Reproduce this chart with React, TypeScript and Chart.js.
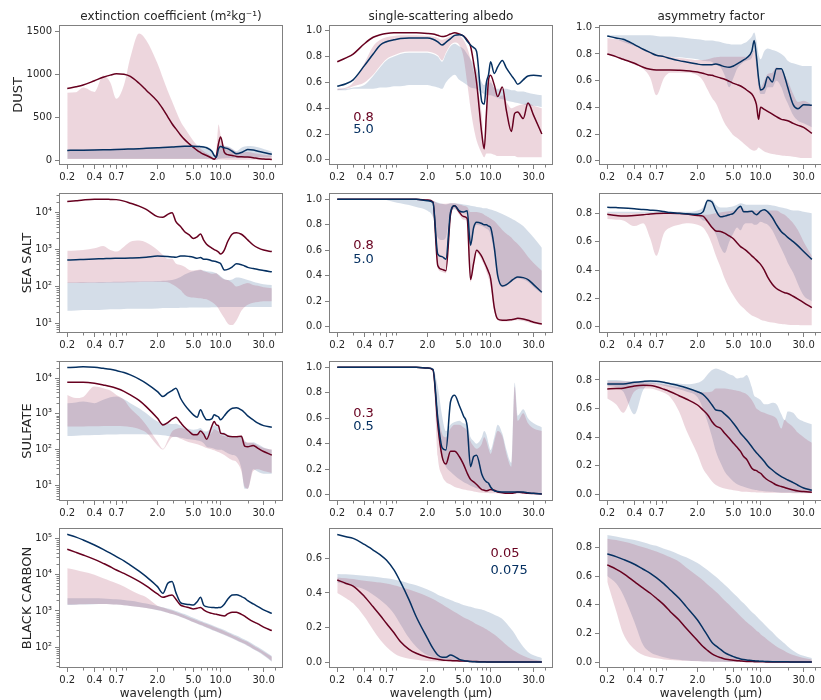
import React, { useEffect, useRef } from 'react';
import { Chart, registerables } from 'chart.js';

Chart.register(...registerables);

// ---------------- data ----------------
const WAVELENGTH = [0.2, 0.25, 0.3, 0.4, 0.5, 0.6, 0.7, 0.85, 1.0, 1.25, 1.5, 2.0, 2.3, 2.6, 2.9, 3.2, 3.6, 4.0, 4.5, 5.0, 5.5, 6.0, 6.5, 7.0, 8.0, 8.5, 9.0, 9.5, 10.0, 11.0, 12.0, 13.5, 15.0, 17.0, 18.5, 20.0, 23.0, 26.0, 30.0, 37.0];

const X_TICKS = [0.2, 0.4, 0.7, 2, 5, 10, 30];
const X_TICK_LABELS = ['0.2', '0.4', '0.7', '2.0', '5.0', '10.0', '30.0'];
const X_MINOR_TICKS = [0.3, 0.5, 0.6, 0.8, 0.9, 3, 4, 6, 7, 8, 9, 20, 40];

const COLUMN_TITLES = ['extinction coefficient (m²kg⁻¹)', 'single-scattering albedo', 'asymmetry factor'];
const ROW_LABELS = ['DUST', 'SEA SALT', 'SULFATE', 'BLACK CARBON'];
const X_LABEL = 'wavelength (μm)';
const SIZE_LABELS_RED = ['0.8', '0.8', '0.3', '0.05'];
const SIZE_LABELS_BLUE = ['5.0', '5.0', '0.5', '0.075'];

// DUST extinction
const DUST_EXT_RED = [840, 860, 880, 930, 970, 995, 1010, 1005, 980, 900, 820, 690, 600, 510, 430, 370, 300, 245, 195, 155, 120, 95, 75, 60, 30, 18, 60, 200, 275, 100, 70, 60, 50, 45, 43, 42, 35, 25, 20, 15];
const DUST_EXT_BLUE = [120, 121, 122, 124, 126, 128, 130, 133, 136, 140, 144, 150, 153, 156, 159, 162, 165, 167, 168, 168, 166, 163, 160, 150, 110, 60, 40, 140, 165, 150, 140, 110, 80, 95, 115, 130, 125, 110, 95, 75];
const DUST_EXT_RED_HI = [790, 795, 850, 800, 990, 910, 720, 880, 1200, 1480, 1400, 1130, 960, 810, 690, 580, 460, 380, 300, 230, 180, 140, 110, 90, 50, 25, 120, 420, 300, 170, 160, 130, 100, 95, 98, 100, 90, 80, 70, 60];
const DUST_EXT_RED_LO = [20, 20, 20, 20, 20, 20, 20, 20, 20, 20, 20, 20, 20, 20, 20, 20, 20, 20, 20, 20, 20, 20, 20, 18, 15, 8, 10, 15, 15, 15, 12, 12, 10, 10, 10, 10, 10, 10, 8, 8];
const DUST_EXT_BLUE_HI = [128, 129, 130, 132, 134, 136, 138, 141, 144, 148, 152, 158, 162, 165, 168, 171, 174, 176, 177, 178, 178, 176, 172, 165, 125, 70, 55, 160, 185, 175, 168, 140, 110, 150, 165, 172, 168, 155, 135, 105];
const DUST_EXT_BLUE_LO = [22, 22, 22, 22, 22, 22, 22, 22, 22, 22, 22, 22, 22, 22, 22, 22, 22, 22, 22, 22, 22, 22, 22, 22, 18, 10, 12, 20, 25, 28, 30, 30, 30, 32, 34, 36, 38, 40, 40, 40];

// DUST single-scattering albedo
const DUST_SSA_RED = [0.76, 0.79, 0.82, 0.90, 0.95, 0.97, 0.98, 0.985, 0.985, 0.985, 0.985, 0.98, 0.975, 0.965, 0.955, 0.96, 0.975, 0.985, 0.975, 0.96, 0.93, 0.88, 0.75, 0.60, 0.20, 0.085, 0.36, 0.62, 0.655, 0.58, 0.49, 0.565, 0.38, 0.22, 0.36, 0.37, 0.32, 0.44, 0.345, 0.20];
const DUST_SSA_BLUE = [0.57, 0.59, 0.62, 0.73, 0.82, 0.89, 0.915, 0.93, 0.94, 0.945, 0.945, 0.945, 0.935, 0.915, 0.89, 0.91, 0.94, 0.965, 0.97, 0.96, 0.92, 0.89, 0.87, 0.84, 0.45, 0.43, 0.60, 0.66, 0.76, 0.67, 0.72, 0.77, 0.71, 0.655, 0.62, 0.585, 0.62, 0.65, 0.655, 0.65];
const DUST_SSA_RED_HI = [0.55, 0.56, 0.60, 0.75, 0.88, 0.93, 0.95, 0.96, 0.965, 0.965, 0.965, 0.96, 0.955, 0.945, 0.93, 0.94, 0.96, 0.97, 0.965, 0.93, 0.87, 0.78, 0.68, 0.58, 0.35, 0.12, 0.40, 0.60, 0.62, 0.55, 0.48, 0.50, 0.45, 0.40, 0.41, 0.42, 0.43, 0.44, 0.42, 0.40];
const DUST_SSA_RED_LO = [0.54, 0.55, 0.57, 0.60, 0.66, 0.73, 0.78, 0.81, 0.83, 0.84, 0.84, 0.84, 0.83, 0.81, 0.77, 0.83, 0.89, 0.91, 0.89, 0.80, 0.60, 0.40, 0.25, 0.15, 0.05, 0.02, 0.05, 0.05, 0.05, 0.04, 0.03, 0.03, 0.03, 0.03, 0.03, 0.02, 0.02, 0.02, 0.02, 0.02];
const DUST_SSA_BLUE_HI = [0.55, 0.55, 0.56, 0.58, 0.65, 0.72, 0.77, 0.80, 0.82, 0.83, 0.83, 0.83, 0.82, 0.80, 0.76, 0.82, 0.88, 0.90, 0.88, 0.86, 0.82, 0.78, 0.74, 0.70, 0.60, 0.58, 0.60, 0.60, 0.60, 0.56, 0.55, 0.55, 0.55, 0.54, 0.54, 0.53, 0.53, 0.52, 0.51, 0.50];
const DUST_SSA_BLUE_LO = [0.54, 0.54, 0.55, 0.55, 0.55, 0.56, 0.56, 0.57, 0.57, 0.58, 0.58, 0.58, 0.57, 0.56, 0.55, 0.60, 0.64, 0.66, 0.62, 0.60, 0.58, 0.56, 0.555, 0.55, 0.52, 0.51, 0.50, 0.50, 0.50, 0.49, 0.48, 0.47, 0.46, 0.45, 0.445, 0.44, 0.43, 0.42, 0.42, 0.41];

// DUST asymmetry factor
const DUST_ASY_RED = [0.80, 0.78, 0.76, 0.73, 0.70, 0.685, 0.68, 0.68, 0.68, 0.678, 0.675, 0.665, 0.655, 0.645, 0.64, 0.63, 0.62, 0.61, 0.595, 0.58, 0.57, 0.56, 0.545, 0.53, 0.50, 0.47, 0.42, 0.31, 0.40, 0.385, 0.37, 0.35, 0.33, 0.31, 0.305, 0.30, 0.28, 0.265, 0.25, 0.205];
const DUST_ASY_BLUE = [0.935, 0.92, 0.91, 0.87, 0.835, 0.81, 0.79, 0.78, 0.766, 0.75, 0.74, 0.724, 0.72, 0.72, 0.72, 0.725, 0.715, 0.705, 0.70, 0.71, 0.725, 0.74, 0.755, 0.77, 0.82, 0.90, 0.78, 0.62, 0.53, 0.55, 0.63, 0.59, 0.69, 0.69, 0.63, 0.55, 0.42, 0.39, 0.42, 0.415];
const DUST_ASY_RED_HI = [0.92, 0.91, 0.90, 0.87, 0.84, 0.82, 0.80, 0.79, 0.78, 0.77, 0.765, 0.755, 0.755, 0.76, 0.77, 0.775, 0.78, 0.78, 0.78, 0.78, 0.78, 0.78, 0.78, 0.78, 0.80, 0.83, 0.75, 0.62, 0.55, 0.60, 0.65, 0.66, 0.70, 0.68, 0.64, 0.60, 0.50, 0.44, 0.45, 0.42];
const DUST_ASY_RED_LO = [0.80, 0.78, 0.76, 0.72, 0.69, 0.62, 0.49, 0.62, 0.66, 0.66, 0.66, 0.64, 0.60, 0.53, 0.47, 0.43, 0.35, 0.28, 0.23, 0.19, 0.17, 0.15, 0.13, 0.11, 0.08, 0.075, 0.08, 0.10, 0.09, 0.07, 0.06, 0.05, 0.045, 0.04, 0.038, 0.035, 0.03, 0.025, 0.02, 0.02];
const DUST_ASY_BLUE_HI = [0.94, 0.94, 0.94, 0.94, 0.94, 0.94, 0.935, 0.93, 0.93, 0.925, 0.92, 0.91, 0.905, 0.90, 0.90, 0.895, 0.89, 0.88, 0.875, 0.87, 0.87, 0.87, 0.88, 0.89, 0.93, 0.96, 0.90, 0.80, 0.76, 0.82, 0.84, 0.83, 0.82, 0.80, 0.78, 0.75, 0.73, 0.72, 0.71, 0.71];
const DUST_ASY_BLUE_LO = [0.93, 0.91, 0.89, 0.86, 0.84, 0.82, 0.80, 0.79, 0.78, 0.775, 0.77, 0.76, 0.75, 0.745, 0.74, 0.72, 0.70, 0.64, 0.55, 0.62, 0.69, 0.72, 0.74, 0.75, 0.77, 0.82, 0.70, 0.55, 0.50, 0.50, 0.55, 0.55, 0.60, 0.55, 0.48, 0.43, 0.34, 0.30, 0.28, 0.25];

// SEA SALT extinction
const SS_EXT_RED = [20000, 21000, 22000, 23000, 23000, 22800, 22500, 20500, 18000, 15000, 12300, 7800, 7500, 9000, 10000, 5700, 4200, 3050, 2500, 2000, 2200, 2650, 1800, 1400, 1100, 1000, 930, 850, 760, 970, 1650, 2650, 2870, 2600, 2200, 1830, 1330, 1110, 970, 880];
const SS_EXT_BLUE = [520, 530, 540, 555, 565, 575, 580, 585, 590, 600, 620, 670, 660, 645, 630, 620, 670, 670, 650, 620, 580, 610, 550, 550, 500, 485, 470, 445, 420, 280, 290, 340, 410, 390, 360, 330, 305, 290, 270, 250];
const SS_EXT_RED_HI = [930, 950, 970, 1080, 1250, 970, 880, 1200, 1630, 1750, 1550, 970, 710, 560, 560, 420, 380, 340, 280, 270, 280, 290, 260, 245, 220, 225, 230, 200, 180, 155, 150, 125, 100, 110, 118, 125, 110, 105, 95, 90];
const SS_EXT_RED_LO = [125, 125, 125, 126, 127, 128, 128, 129, 130, 132, 134, 135, 133, 130, 115, 100, 80, 60, 52, 50, 49, 48, 46, 45, 38, 34, 30, 25, 20, 14, 10, 9, 12, 22, 28, 32, 36, 38, 40, 40];
const SS_EXT_BLUE_HI = [128, 129, 130, 131, 132, 133, 134, 135, 136, 137, 138, 140, 142, 145, 150, 160, 180, 210, 240, 260, 270, 280, 270, 260, 250, 240, 230, 210, 190, 160, 150, 155, 175, 170, 160, 150, 135, 125, 115, 110];
const SS_EXT_BLUE_LO = [22, 22.5, 23, 23, 23.5, 24, 24, 24.5, 25, 25, 25, 25.5, 26, 26, 26, 26, 26.5, 26.5, 27, 27, 27, 27, 27, 27, 27.5, 27.5, 27.5, 27.5, 28, 28, 28, 28, 28, 28, 28, 28, 28, 28, 28, 28];

// SEA SALT single-scattering albedo
const SS_SSA_RED = [1, 1, 1, 1, 1, 1, 1, 1, 1, 1, 1, 0.995, 0.98, 0.48, 0.45, 0.44, 0.88, 0.95, 0.90, 0.865, 0.85, 0.37, 0.50, 0.60, 0.55, 0.51, 0.47, 0.43, 0.38, 0.15, 0.06, 0.05, 0.05, 0.055, 0.06, 0.065, 0.06, 0.05, 0.035, 0.02];
const SS_SSA_BLUE = [1, 1, 1, 1, 1, 1, 1, 1, 1, 1, 1, 0.99, 0.975, 0.57, 0.55, 0.53, 0.90, 0.95, 0.91, 0.90, 0.91, 0.64, 0.78, 0.82, 0.81, 0.80, 0.80, 0.79, 0.78, 0.62, 0.40, 0.32, 0.33, 0.36, 0.38, 0.39, 0.385, 0.37, 0.33, 0.27];
const SS_SSA_RED_HI = [1, 1, 1, 1, 1, 1, 1, 1, 1, 1, 1, 1, 0.99, 0.97, 0.965, 0.965, 0.97, 0.97, 0.96, 0.95, 0.94, 0.90, 0.90, 0.90, 0.89, 0.88, 0.87, 0.86, 0.85, 0.83, 0.80, 0.76, 0.73, 0.70, 0.67, 0.65, 0.60, 0.55, 0.50, 0.44];
const SS_SSA_RED_LO = [1, 1, 1, 1, 1, 1, 1, 1, 1, 1, 1, 0.99, 0.975, 0.46, 0.43, 0.42, 0.85, 0.93, 0.88, 0.84, 0.83, 0.35, 0.48, 0.58, 0.52, 0.48, 0.43, 0.38, 0.32, 0.12, 0.05, 0.04, 0.04, 0.045, 0.05, 0.05, 0.045, 0.035, 0.025, 0.015];
const SS_SSA_BLUE_HI = [1, 1, 1, 1, 1, 1, 1, 1, 1, 1, 1, 1, 0.99, 0.975, 0.965, 0.96, 0.97, 0.97, 0.965, 0.96, 0.955, 0.95, 0.945, 0.94, 0.935, 0.93, 0.93, 0.925, 0.92, 0.91, 0.90, 0.885, 0.87, 0.85, 0.835, 0.82, 0.79, 0.75, 0.70, 0.62];
const SS_SSA_BLUE_LO = [1, 1, 1, 1, 1, 1, 0.995, 0.98, 0.97, 0.955, 0.94, 0.91, 0.86, 0.70, 0.68, 0.70, 0.90, 0.92, 0.90, 0.89, 0.88, 0.63, 0.75, 0.80, 0.79, 0.78, 0.77, 0.76, 0.72, 0.58, 0.38, 0.31, 0.32, 0.35, 0.37, 0.38, 0.37, 0.35, 0.31, 0.26];

// SEA SALT asymmetry factor
const SS_ASY_RED = [0.793, 0.785, 0.78, 0.785, 0.79, 0.795, 0.798, 0.80, 0.80, 0.798, 0.795, 0.785, 0.78, 0.74, 0.70, 0.675, 0.672, 0.66, 0.64, 0.62, 0.59, 0.565, 0.55, 0.535, 0.50, 0.485, 0.47, 0.455, 0.44, 0.40, 0.35, 0.30, 0.27, 0.25, 0.24, 0.235, 0.215, 0.195, 0.17, 0.135];
const SS_ASY_BLUE = [0.842, 0.840, 0.838, 0.832, 0.826, 0.822, 0.82, 0.812, 0.805, 0.80, 0.797, 0.793, 0.81, 0.89, 0.88, 0.82, 0.775, 0.78, 0.79, 0.80, 0.83, 0.85, 0.81, 0.81, 0.815, 0.80, 0.79, 0.80, 0.815, 0.825, 0.81, 0.77, 0.72, 0.67, 0.65, 0.63, 0.60, 0.57, 0.53, 0.475];
const SS_ASY_RED_HI = [0.80, 0.80, 0.80, 0.80, 0.80, 0.80, 0.80, 0.80, 0.80, 0.80, 0.80, 0.79, 0.79, 0.79, 0.795, 0.80, 0.805, 0.81, 0.815, 0.82, 0.83, 0.84, 0.83, 0.82, 0.82, 0.82, 0.82, 0.82, 0.82, 0.82, 0.82, 0.82, 0.82, 0.80, 0.79, 0.77, 0.73, 0.68, 0.60, 0.50];
const SS_ASY_RED_LO = [0.76, 0.755, 0.75, 0.71, 0.73, 0.62, 0.50, 0.66, 0.70, 0.72, 0.73, 0.72, 0.70, 0.65, 0.58, 0.50, 0.42, 0.34, 0.27, 0.22, 0.18, 0.15, 0.13, 0.11, 0.08, 0.072, 0.065, 0.058, 0.05, 0.042, 0.035, 0.03, 0.025, 0.02, 0.018, 0.015, 0.013, 0.012, 0.01, 0.01];
const SS_ASY_BLUE_HI = [0.81, 0.81, 0.81, 0.81, 0.81, 0.81, 0.81, 0.81, 0.81, 0.81, 0.81, 0.82, 0.84, 0.90, 0.895, 0.86, 0.84, 0.84, 0.845, 0.85, 0.86, 0.87, 0.865, 0.86, 0.86, 0.86, 0.86, 0.86, 0.86, 0.86, 0.86, 0.855, 0.85, 0.84, 0.835, 0.83, 0.82, 0.82, 0.81, 0.80];
const SS_ASY_BLUE_LO = [0.80, 0.80, 0.80, 0.80, 0.80, 0.80, 0.80, 0.80, 0.80, 0.795, 0.79, 0.78, 0.75, 0.74, 0.70, 0.65, 0.56, 0.52, 0.60, 0.66, 0.70, 0.68, 0.72, 0.73, 0.73, 0.72, 0.72, 0.73, 0.74, 0.73, 0.72, 0.68, 0.62, 0.55, 0.50, 0.45, 0.38, 0.30, 0.22, 0.18];

// SULFATE extinction
const SUL_EXT_RED = [7700, 7700, 7700, 7240, 6500, 5900, 5240, 4300, 3410, 2400, 1600, 750, 490, 570, 710, 810, 570, 420, 320, 260, 260, 330, 270, 195, 450, 610, 490, 460, 290, 275, 240, 230, 230, 235, 125, 120, 130, 108, 88, 70];
const SUL_EXT_BLUE = [20000, 20500, 21000, 20300, 19000, 17800, 16400, 14500, 12400, 9500, 7240, 4230, 3060, 3800, 4500, 5240, 2750, 1790, 1240, 940, 810, 1300, 880, 680, 730, 940, 880, 820, 680, 880, 1160, 1440, 1480, 1290, 1080, 880, 680, 550, 470, 420];
const SUL_EXT_RED_HI = [3400, 2800, 3000, 5840, 5240, 4500, 3400, 2500, 1440, 840, 490, 167, 105, 186, 320, 380, 400, 380, 330, 290, 280, 320, 280, 230, 300, 380, 350, 320, 260, 240, 220, 210, 210, 210, 165, 160, 150, 130, 110, 100];
const SUL_EXT_RED_LO = [440, 440, 445, 450, 460, 460, 460, 450, 430, 380, 300, 130, 100, 150, 220, 230, 200, 180, 160, 150, 140, 130, 120, 110, 100, 95, 90, 85, 80, 70, 60, 50, 45, 25, 9, 8, 25, 28, 25, 22];
const SUL_EXT_BLUE_HI = [2000, 2100, 2220, 2000, 2480, 2930, 3060, 2570, 2000, 1450, 1040, 610, 550, 550, 520, 530, 470, 400, 380, 360, 370, 400, 330, 320, 420, 480, 450, 400, 320, 300, 260, 240, 230, 230, 180, 150, 160, 140, 115, 98];
const SUL_EXT_BLUE_LO = [240, 245, 250, 255, 260, 265, 265, 268, 270, 268, 265, 260, 250, 240, 230, 225, 215, 205, 195, 187, 180, 170, 150, 120, 110, 105, 100, 98, 98, 90, 79, 70, 64, 30, 8, 8, 28, 24, 21, 21];

// SULFATE single-scattering albedo
const SUL_SSA_RED = [1, 1, 1, 1, 1, 1, 1, 1, 1, 1, 1, 0.995, 0.98, 0.55, 0.30, 0.24, 0.34, 0.34, 0.30, 0.24, 0.17, 0.12, 0.10, 0.08, 0.04, 0.035, 0.03, 0.035, 0.04, 0.035, 0.02, 0.015, 0.01, 0.01, 0.015, 0.02, 0.015, 0.01, 0.008, 0.005];
const SUL_SSA_BLUE = [1, 1, 1, 1, 1, 1, 1, 1, 1, 1, 1, 0.995, 0.985, 0.60, 0.37, 0.35, 0.73, 0.78, 0.70, 0.62, 0.54, 0.22, 0.30, 0.31, 0.16, 0.12, 0.10, 0.09, 0.06, 0.03, 0.025, 0.02, 0.02, 0.02, 0.02, 0.02, 0.02, 0.015, 0.01, 0.005];
const SUL_SSA_RED_HI = [1, 1, 1, 1, 1, 1, 1, 1, 1, 1, 1, 1, 0.985, 0.66, 0.48, 0.45, 0.52, 0.55, 0.55, 0.53, 0.50, 0.42, 0.38, 0.36, 0.40, 0.45, 0.42, 0.36, 0.32, 0.42, 0.50, 0.46, 0.32, 0.22, 0.85, 0.58, 0.64, 0.56, 0.52, 0.50];
const SUL_SSA_RED_LO = [1, 1, 1, 1, 1, 1, 1, 1, 1, 1, 1, 0.99, 0.97, 0.30, 0.15, 0.10, 0.08, 0.06, 0.05, 0.04, 0.035, 0.03, 0.025, 0.02, 0.015, 0.015, 0.012, 0.012, 0.01, 0.01, 0.01, 0.008, 0.008, 0.008, 0.008, 0.006, 0.006, 0.005, 0.005, 0.004];
const SUL_SSA_BLUE_HI = [1, 1, 1, 1, 1, 1, 1, 1, 1, 1, 1, 1, 0.99, 0.85, 0.62, 0.50, 0.55, 0.57, 0.58, 0.56, 0.55, 0.45, 0.42, 0.40, 0.45, 0.50, 0.47, 0.40, 0.35, 0.45, 0.55, 0.48, 0.35, 0.25, 0.88, 0.62, 0.67, 0.60, 0.56, 0.53];
const SUL_SSA_BLUE_LO = [1, 1, 1, 1, 1, 1, 1, 1, 1, 1, 1, 0.995, 0.98, 0.50, 0.30, 0.22, 0.18, 0.15, 0.12, 0.10, 0.085, 0.07, 0.06, 0.05, 0.04, 0.035, 0.033, 0.03, 0.03, 0.025, 0.02, 0.02, 0.02, 0.018, 0.016, 0.015, 0.014, 0.012, 0.011, 0.01];

// SULFATE asymmetry factor
const SUL_ASY_RED = [0.737, 0.74, 0.742, 0.758, 0.763, 0.762, 0.753, 0.735, 0.718, 0.69, 0.667, 0.625, 0.59, 0.555, 0.508, 0.478, 0.462, 0.427, 0.392, 0.357, 0.329, 0.30, 0.264, 0.245, 0.182, 0.17, 0.166, 0.155, 0.147, 0.119, 0.10, 0.082, 0.065, 0.054, 0.047, 0.04, 0.03, 0.023, 0.019, 0.014];
const SUL_ASY_BLUE = [0.772, 0.772, 0.772, 0.784, 0.79, 0.793, 0.792, 0.784, 0.774, 0.76, 0.746, 0.718, 0.70, 0.665, 0.625, 0.59, 0.585, 0.562, 0.532, 0.497, 0.462, 0.427, 0.403, 0.38, 0.333, 0.31, 0.29, 0.275, 0.259, 0.229, 0.198, 0.17, 0.147, 0.124, 0.112, 0.10, 0.082, 0.063, 0.044, 0.028];
const SUL_ASY_RED_HI = [0.79, 0.79, 0.79, 0.788, 0.785, 0.78, 0.775, 0.768, 0.76, 0.75, 0.74, 0.72, 0.715, 0.715, 0.72, 0.74, 0.74, 0.74, 0.735, 0.73, 0.725, 0.72, 0.71, 0.70, 0.66, 0.63, 0.60, 0.59, 0.58, 0.57, 0.56, 0.55, 0.53, 0.46, 0.52, 0.50, 0.47, 0.43, 0.40, 0.36];
const SUL_ASY_RED_LO = [0.67, 0.63, 0.57, 0.72, 0.74, 0.74, 0.73, 0.71, 0.68, 0.58, 0.45, 0.28, 0.18, 0.13, 0.09, 0.065, 0.05, 0.04, 0.033, 0.028, 0.024, 0.02, 0.018, 0.017, 0.015, 0.014, 0.013, 0.012, 0.012, 0.011, 0.01, 0.01, 0.01, 0.009, 0.009, 0.009, 0.008, 0.008, 0.008, 0.008];
const SUL_ASY_BLUE_HI = [0.80, 0.80, 0.795, 0.79, 0.79, 0.79, 0.79, 0.785, 0.78, 0.775, 0.77, 0.78, 0.80, 0.84, 0.87, 0.88, 0.87, 0.86, 0.84, 0.83, 0.81, 0.815, 0.82, 0.835, 0.75, 0.69, 0.68, 0.67, 0.66, 0.63, 0.63, 0.64, 0.63, 0.56, 0.52, 0.58, 0.57, 0.53, 0.51, 0.49];
const SUL_ASY_BLUE_LO = [0.76, 0.75, 0.72, 0.56, 0.73, 0.77, 0.77, 0.76, 0.75, 0.735, 0.72, 0.68, 0.60, 0.50, 0.40, 0.30, 0.22, 0.16, 0.12, 0.09, 0.07, 0.06, 0.052, 0.045, 0.035, 0.032, 0.03, 0.027, 0.025, 0.022, 0.02, 0.018, 0.015, 0.013, 0.012, 0.012, 0.011, 0.01, 0.01, 0.01];

// BLACK CARBON extinction
const BC_EXT_RED = [49800, 41000, 34800, 26400, 20500, 16500, 13400, 10800, 8800, 6500, 4900, 2940, 2380, 2600, 2770, 2100, 1450, 1320, 1230, 1140, 1190, 1250, 1070, 960, 860, 830, 810, 785, 760, 730, 830, 930, 920, 810, 720, 630, 510, 440, 360, 290];
const BC_EXT_BLUE = [129000, 108000, 90000, 65600, 49800, 39000, 31200, 24000, 18400, 12500, 8800, 4680, 3060, 5800, 6500, 3200, 1700, 1560, 1500, 1450, 1800, 2370, 1450, 1320, 1250, 1240, 1230, 1240, 1250, 1530, 2100, 2770, 2800, 2500, 2250, 1930, 1560, 1320, 1070, 860];
const BC_EXT_RED_HI = [14900, 13500, 12000, 10000, 7900, 6700, 5800, 4700, 3800, 2900, 2400, 1400, 1246, 1125, 1030, 937, 833, 750, 667, 600, 548, 505, 468, 436, 384, 363, 344, 327, 310, 278, 251, 218, 194, 168, 152, 140, 113, 94, 76, 55];
const BC_EXT_RED_LO = [1500, 1520, 1540, 1560, 1560, 1540, 1500, 1440, 1380, 1280, 1200, 1060, 980, 900, 830, 770, 690, 630, 560, 500, 455, 415, 385, 355, 310, 292, 276, 262, 248, 224, 204, 180, 160, 138, 125, 112, 92, 78, 63, 42];
const BC_EXT_BLUE_HI = [2240, 2250, 2250, 2230, 2200, 2150, 2100, 2000, 1900, 1750, 1600, 1380, 1270, 1170, 1080, 1000, 900, 820, 730, 650, 590, 540, 500, 465, 410, 385, 365, 347, 330, 298, 270, 236, 210, 182, 165, 150, 122, 102, 82, 58];
const BC_EXT_BLUE_LO = [1450, 1480, 1500, 1530, 1550, 1540, 1500, 1440, 1380, 1280, 1200, 1050, 970, 890, 820, 760, 680, 620, 550, 490, 445, 405, 375, 348, 302, 285, 270, 256, 242, 218, 198, 175, 155, 134, 121, 108, 89, 75, 60, 40];

// BLACK CARBON single-scattering albedo
const BC_SSA_RED = [0.475, 0.455, 0.44, 0.38, 0.32, 0.27, 0.225, 0.17, 0.12, 0.075, 0.052, 0.029, 0.022, 0.017, 0.013, 0.011, 0.01, 0.009, 0.008, 0.007, 0.006, 0.005, 0.004, 0.004, 0.003, 0.003, 0.002, 0.002, 0.002, 0.002, 0.001, 0.001, 0.001, 0.001, 0.001, 0.001, 0.001, 0.001, 0.001, 0.001];
const BC_SSA_BLUE = [0.738, 0.725, 0.715, 0.68, 0.648, 0.62, 0.59, 0.533, 0.465, 0.36, 0.263, 0.138, 0.08, 0.042, 0.029, 0.029, 0.042, 0.033, 0.017, 0.01, 0.007, 0.004, 0.003, 0.002, 0.0015, 0.001, 0.001, 0.001, 0.001, 0.001, 0.001, 0.001, 0.001, 0.001, 0.001, 0.001, 0.001, 0.001, 0.001, 0.001];
const BC_SSA_RED_HI = [0.49, 0.485, 0.48, 0.47, 0.465, 0.46, 0.455, 0.445, 0.435, 0.42, 0.405, 0.38, 0.365, 0.35, 0.335, 0.32, 0.305, 0.29, 0.275, 0.26, 0.25, 0.24, 0.23, 0.22, 0.205, 0.198, 0.19, 0.182, 0.175, 0.16, 0.145, 0.122, 0.10, 0.078, 0.065, 0.054, 0.038, 0.026, 0.016, 0.008];
const BC_SSA_RED_LO = [0.40, 0.37, 0.34, 0.263, 0.187, 0.129, 0.09, 0.052, 0.033, 0.02, 0.015, 0.008, 0.006, 0.005, 0.004, 0.004, 0.003, 0.003, 0.002, 0.002, 0.002, 0.001, 0.001, 0.001, 0.001, 0.001, 0.001, 0.001, 0.001, 0.001, 0, 0, 0, 0, 0, 0, 0, 0, 0, 0];
const BC_SSA_BLUE_HI = [0.51, 0.508, 0.505, 0.50, 0.495, 0.49, 0.485, 0.478, 0.47, 0.455, 0.445, 0.42, 0.405, 0.39, 0.38, 0.37, 0.36, 0.35, 0.34, 0.33, 0.325, 0.32, 0.315, 0.31, 0.305, 0.30, 0.295, 0.29, 0.285, 0.275, 0.265, 0.25, 0.225, 0.19, 0.165, 0.135, 0.09, 0.06, 0.04, 0.025];
const BC_SSA_BLUE_LO = [0.46, 0.45, 0.44, 0.42, 0.39, 0.36, 0.33, 0.28, 0.22, 0.14, 0.09, 0.04, 0.03, 0.02, 0.015, 0.01, 0.008, 0.005, 0.004, 0.003, 0.002, 0.002, 0.002, 0.001, 0.001, 0.001, 0.001, 0.001, 0.001, 0.001, 0, 0, 0, 0, 0, 0, 0, 0, 0, 0];

// BLACK CARBON asymmetry factor
const BC_ASY_RED = [0.677, 0.648, 0.619, 0.561, 0.515, 0.48, 0.445, 0.399, 0.352, 0.294, 0.236, 0.151, 0.109, 0.081, 0.058, 0.044, 0.032, 0.023, 0.018, 0.014, 0.011, 0.009, 0.007, 0.006, 0.005, 0.004, 0.004, 0.003, 0.003, 0.003, 0.002, 0.002, 0.002, 0.001, 0.001, 0.001, 0.001, 0.001, 0.001, 0.001];
const BC_ASY_BLUE = [0.754, 0.735, 0.716, 0.682, 0.647, 0.619, 0.589, 0.545, 0.503, 0.445, 0.387, 0.294, 0.236, 0.183, 0.137, 0.114, 0.09, 0.067, 0.051, 0.039, 0.03, 0.023, 0.019, 0.016, 0.012, 0.01, 0.009, 0.008, 0.007, 0.006, 0.005, 0.004, 0.0035, 0.003, 0.003, 0.003, 0.002, 0.002, 0.002, 0.002];
const BC_ASY_RED_HI = [0.86, 0.85, 0.84, 0.82, 0.80, 0.785, 0.77, 0.75, 0.73, 0.70, 0.66, 0.60, 0.57, 0.54, 0.515, 0.49, 0.46, 0.43, 0.40, 0.37, 0.345, 0.32, 0.30, 0.28, 0.25, 0.235, 0.22, 0.21, 0.195, 0.175, 0.155, 0.13, 0.11, 0.09, 0.078, 0.066, 0.05, 0.04, 0.03, 0.02];
const BC_ASY_RED_LO = [0.56, 0.36, 0.20, 0.09, 0.05, 0.035, 0.028, 0.02, 0.016, 0.012, 0.01, 0.007, 0.006, 0.005, 0.004, 0.004, 0.003, 0.003, 0.002, 0.002, 0.002, 0.002, 0.001, 0.001, 0.001, 0.001, 0.001, 0.001, 0.001, 0.001, 0, 0, 0, 0, 0, 0, 0, 0, 0, 0];
const BC_ASY_BLUE_HI = [0.885, 0.875, 0.865, 0.85, 0.835, 0.82, 0.81, 0.79, 0.775, 0.75, 0.73, 0.69, 0.665, 0.64, 0.615, 0.595, 0.565, 0.54, 0.51, 0.48, 0.455, 0.43, 0.41, 0.39, 0.35, 0.335, 0.32, 0.305, 0.29, 0.265, 0.24, 0.21, 0.18, 0.15, 0.13, 0.11, 0.08, 0.06, 0.045, 0.03];
const BC_ASY_BLUE_LO = [0.60, 0.55, 0.47, 0.28, 0.12, 0.07, 0.05, 0.035, 0.025, 0.018, 0.013, 0.008, 0.006, 0.005, 0.004, 0.004, 0.003, 0.002, 0.002, 0.002, 0.002, 0.001, 0.001, 0.001, 0.001, 0.001, 0.001, 0.001, 0.001, 0.001, 0, 0, 0, 0, 0, 0, 0, 0, 0, 0];

// y-axis ticks
const TICKS_DUST_EXT = [0, 500, 1000, 1500];
const TICKS_UNIT_10 = [0, 0.2, 0.4, 0.6, 0.8, 1.0];
const TICKS_UNIT_08 = [0, 0.2, 0.4, 0.6, 0.8];
const TICKS_UNIT_06 = [0, 0.2, 0.4, 0.6];
const TICKS_LOG_1_4 = [10, 100, 1000, 10000];
const TICKS_LOG_2_5 = [100, 1000, 10000, 100000];

// ---------------- style / layout ----------------
const RED = '#67001f';
const BLUE = '#053061';
const RED_FILL = 'rgba(170, 60, 95, 0.21)';
const BLUE_FILL = 'rgba(60, 100, 150, 0.22)';
const SPINE = '#808080';
const TEXT = '#262626';
const FONT = '"DejaVu Sans", sans-serif';

const COL_LEFT = [59, 329, 599];
const ROW_TOP = [25, 193, 361, 528];
const PLOT_W = 224;
const PLOT_H = 140;
const AXW = 56;
const PT = 12;
const PR = 6;
const AXH = 22;
const X_MIN = 0.162;
const X_MAX = 49.2;

const SUP: any = { '0': '⁰', '1': '¹', '2': '²', '3': '³', '4': '⁴', '5': '⁵', '6': '⁶' };

const PANELS: any[] = [
  { row: 0, col: 0, log: false, yMin: -50, yMax: 1578, yTicks: TICKS_DUST_EXT, fmt: 'int', red: DUST_EXT_RED, blue: DUST_EXT_BLUE, redHi: DUST_EXT_RED_HI, redLo: DUST_EXT_RED_LO, blueHi: DUST_EXT_BLUE_HI, blueLo: DUST_EXT_BLUE_LO },
  { row: 0, col: 1, log: false, yMin: -0.04, yMax: 1.045, yTicks: TICKS_UNIT_10, fmt: 'f1', red: DUST_SSA_RED, blue: DUST_SSA_BLUE, redHi: DUST_SSA_RED_HI, redLo: DUST_SSA_RED_LO, blueHi: DUST_SSA_BLUE_HI, blueLo: DUST_SSA_BLUE_LO, annot: { x: 0.3, yRed: 0.33, yBlue: 0.233 } },
  { row: 0, col: 2, log: false, yMin: -0.032, yMax: 1.017, yTicks: TICKS_UNIT_10, fmt: 'f1', red: DUST_ASY_RED, blue: DUST_ASY_BLUE, redHi: DUST_ASY_RED_HI, redLo: DUST_ASY_RED_LO, blueHi: DUST_ASY_BLUE_HI, blueLo: DUST_ASY_BLUE_LO },
  { row: 1, col: 0, log: true, yMin: 5.5, yMax: 34000, yTicks: TICKS_LOG_1_4, fmt: 'log', red: SS_EXT_RED, blue: SS_EXT_BLUE, redHi: SS_EXT_RED_HI, redLo: SS_EXT_RED_LO, blueHi: SS_EXT_BLUE_HI, blueLo: SS_EXT_BLUE_LO },
  { row: 1, col: 1, log: false, yMin: -0.05, yMax: 1.05, yTicks: TICKS_UNIT_10, fmt: 'f1', red: SS_SSA_RED, blue: SS_SSA_BLUE, redHi: SS_SSA_RED_HI, redLo: SS_SSA_RED_LO, blueHi: SS_SSA_BLUE_HI, blueLo: SS_SSA_BLUE_LO, annot: { x: 0.3, yRed: 0.634, yBlue: 0.529 } },
  { row: 1, col: 2, log: false, yMin: -0.044, yMax: 0.943, yTicks: TICKS_UNIT_08, fmt: 'f1', red: SS_ASY_RED, blue: SS_ASY_BLUE, redHi: SS_ASY_RED_HI, redLo: SS_ASY_RED_LO, blueHi: SS_ASY_BLUE_HI, blueLo: SS_ASY_BLUE_LO },
  { row: 2, col: 0, log: true, yMin: 3.6, yMax: 30500, yTicks: TICKS_LOG_1_4, fmt: 'log', red: SUL_EXT_RED, blue: SUL_EXT_BLUE, redHi: SUL_EXT_RED_HI, redLo: SUL_EXT_RED_LO, blueHi: SUL_EXT_BLUE_HI, blueLo: SUL_EXT_BLUE_LO },
  { row: 2, col: 1, log: false, yMin: -0.05, yMax: 1.05, yTicks: TICKS_UNIT_10, fmt: 'f1', red: SUL_SSA_RED, blue: SUL_SSA_BLUE, redHi: SUL_SSA_RED_HI, redLo: SUL_SSA_RED_LO, blueHi: SUL_SSA_BLUE_HI, blueLo: SUL_SSA_BLUE_LO, annot: { x: 0.3, yRed: 0.638, yBlue: 0.533 } },
  { row: 2, col: 2, log: false, yMin: -0.047, yMax: 0.933, yTicks: TICKS_UNIT_08, fmt: 'f1', red: SUL_ASY_RED, blue: SUL_ASY_BLUE, redHi: SUL_ASY_RED_HI, redLo: SUL_ASY_RED_LO, blueHi: SUL_ASY_BLUE_HI, blueLo: SUL_ASY_BLUE_LO },
  { row: 3, col: 0, log: true, yMin: 27, yMax: 192000, yTicks: TICKS_LOG_2_5, fmt: 'log', red: BC_EXT_RED, blue: BC_EXT_BLUE, redHi: BC_EXT_RED_HI, redLo: BC_EXT_RED_LO, blueHi: BC_EXT_BLUE_HI, blueLo: BC_EXT_BLUE_LO },
  { row: 3, col: 1, log: false, yMin: -0.033, yMax: 0.775, yTicks: TICKS_UNIT_06, fmt: 'f1', red: BC_SSA_RED, blue: BC_SSA_BLUE, redHi: BC_SSA_RED_HI, redLo: BC_SSA_RED_LO, blueHi: BC_SSA_BLUE_HI, blueLo: BC_SSA_BLUE_LO, annot: { x: 10.0, yRed: 0.629, yBlue: 0.527 } },
  { row: 3, col: 2, log: false, yMin: -0.04, yMax: 0.934, yTicks: TICKS_UNIT_08, fmt: 'f1', red: BC_ASY_RED, blue: BC_ASY_BLUE, redHi: BC_ASY_RED_HI, redLo: BC_ASY_RED_LO, blueHi: BC_ASY_BLUE_HI, blueLo: BC_ASY_BLUE_LO },
];

function fmtTick(p: any, v: number): string {
  if (p.fmt === 'log') {
    const e = Math.round(Math.log10(v));
    return '10' + String(e).split('').map((c) => SUP[c]).join('');
  }
  if (p.fmt === 'int') return String(Math.round(v));
  return v.toFixed(1);
}

function makeOverlay(p: any) {
  return {
    id: 'overlay' + p.row + p.col,
    afterDraw(chart: any) {
      const { ctx, chartArea: a } = chart;
      const xs = chart.scales.x;
      const ys = chart.scales.y;
      ctx.save();
      ctx.strokeStyle = SPINE;
      ctx.lineWidth = 1;
      ctx.beginPath();
      X_MINOR_TICKS.forEach((v) => {
        const px = Math.round(xs.getPixelForValue(v)) + 0.5;
        if (px > a.left && px < a.right) {
          ctx.moveTo(px, a.bottom);
          ctx.lineTo(px, a.bottom + 2.5);
        }
      });
      if (p.log) {
        const e0 = Math.floor(Math.log10(p.yMin));
        const e1 = Math.ceil(Math.log10(p.yMax));
        for (let e = e0; e <= e1; e++) {
          for (let m = 2; m <= 9; m++) {
            const v = m * Math.pow(10, e);
            if (v > p.yMin && v < p.yMax) {
              const py = Math.round(ys.getPixelForValue(v)) + 0.5;
              ctx.moveTo(a.left, py);
              ctx.lineTo(a.left - 2.5, py);
            }
          }
        }
      }
      ctx.stroke();
      const l = Math.round(a.left) + 0.5;
      const t = Math.round(a.top) + 0.5;
      ctx.strokeRect(l, t, Math.round(a.right) - Math.round(a.left) - 1, Math.round(a.bottom) - Math.round(a.top) - 1);
      if (p.annot) {
        ctx.font = '13px ' + FONT;
        ctx.textAlign = 'left';
        ctx.textBaseline = 'middle';
        const ax = xs.getPixelForValue(p.annot.x);
        ctx.fillStyle = RED;
        ctx.fillText(SIZE_LABELS_RED[p.row], ax, ys.getPixelForValue(p.annot.yRed));
        ctx.fillStyle = BLUE;
        ctx.fillText(SIZE_LABELS_BLUE[p.row], ax, ys.getPixelForValue(p.annot.yBlue));
      }
      ctx.restore();
    },
  };
}

function Panel({ p }: any) {
  const ref = useRef<HTMLCanvasElement>(null);
  const width = AXW + PLOT_W + PR;
  const height = PT + PLOT_H + AXH;
  useEffect(() => {
    const pts = (arr: number[]) => WAVELENGTH.map((x, i) => ({ x, y: arr[i] }));
    const line = (arr: number[], color: string) => ({
      data: pts(arr), borderColor: color, borderWidth: 1.5, pointRadius: 0, fill: false, cubicInterpolationMode: 'monotone',
    });
    const band = (arr: number[], fill: any, color: string) => ({
      data: pts(arr), borderColor: 'rgba(0,0,0,0)', borderWidth: 0, pointRadius: 0, fill, backgroundColor: color, cubicInterpolationMode: 'monotone',
    });
    const tickFont = { family: FONT, size: 10 };
    const chart = new Chart(ref.current as HTMLCanvasElement, {
      type: 'line',
      data: {
        datasets: [
          line(p.blue, BLUE),
          line(p.red, RED),
          band(p.redLo, false, 'rgba(0,0,0,0)'),
          band(p.redHi, 2, RED_FILL),
          band(p.blueLo, false, 'rgba(0,0,0,0)'),
          band(p.blueHi, 4, BLUE_FILL),
        ] as any,
      },
      options: {
        responsive: false,
        animation: false,
        devicePixelRatio: 1,
        events: [],
        layout: { padding: { left: 0, top: PT, right: PR, bottom: 0 } },
        plugins: { legend: { display: false }, tooltip: { enabled: false } },
        scales: {
          x: {
            type: 'logarithmic',
            min: X_MIN,
            max: X_MAX,
            afterBuildTicks: (s: any) => { s.ticks = X_TICKS.map((v) => ({ value: v })); },
            afterFit: (s: any) => { s.height = AXH; },
            ticks: {
              autoSkip: false, maxRotation: 0, minRotation: 0, padding: 2, color: TEXT, font: tickFont,
              callback: (v: any) => {
                const i = X_TICKS.findIndex((t) => Math.abs(t - Number(v)) < 1e-9);
                return i >= 0 ? X_TICK_LABELS[i] : '';
              },
            },
            grid: { display: true, drawOnChartArea: false, drawTicks: true, tickLength: 4, color: SPINE, tickColor: SPINE, lineWidth: 1 },
            border: { display: false },
          },
          y: {
            type: p.log ? 'logarithmic' : 'linear',
            min: p.yMin,
            max: p.yMax,
            afterBuildTicks: (s: any) => { s.ticks = p.yTicks.map((v: number) => ({ value: v })); },
            afterFit: (s: any) => { s.width = AXW; },
            ticks: {
              autoSkip: false, padding: 3, color: TEXT, font: tickFont,
              callback: (v: any) => fmtTick(p, Number(v)),
            },
            grid: { display: true, drawOnChartArea: false, drawTicks: true, tickLength: 4, color: SPINE, tickColor: SPINE, lineWidth: 1 },
            border: { display: false },
          },
        },
      } as any,
      plugins: [makeOverlay(p)],
    });
    return () => chart.destroy();
  }, [p]);
  return (
    <canvas
      ref={ref}
      width={width}
      height={height}
      style={{ position: 'absolute', left: COL_LEFT[p.col] - AXW, top: ROW_TOP[p.row] - PT, width, height }}
    />
  );
}

const centered = (x: number, y: number, size: number, extra: any = {}) => ({
  position: 'absolute' as const,
  left: x,
  top: y,
  transform: 'translate(-50%, -50%)' + (extra.rotate ? ' rotate(-90deg)' : ''),
  fontSize: size,
  lineHeight: '1',
  whiteSpace: 'nowrap' as const,
  color: TEXT,
  fontFamily: FONT,
});

const ROW_LABEL_X = [17, 25.5, 26, 26];

export default function App() {
  return (
    <div style={{ position: 'absolute', left: 0, top: 0, width: 821, height: 700, overflow: 'hidden', background: '#ffffff', fontFamily: FONT }}>
      {PANELS.map((p, i) => <Panel key={i} p={p} />)}
      {COLUMN_TITLES.map((t, c) => (
        <div key={'t' + c} style={centered(COL_LEFT[c] + PLOT_W / 2, 16, 12)}>{t}</div>
      ))}
      {ROW_LABELS.map((t, r) => (
        <div key={'r' + r} style={centered(ROW_LABEL_X[r], ROW_TOP[r] + PLOT_H / 2, 13, { rotate: true })}>{t}</div>
      ))}
      {COLUMN_TITLES.map((_, c) => (
        <div key={'x' + c} style={centered(COL_LEFT[c] + PLOT_W / 2, 693, 12)}>{X_LABEL}</div>
      ))}
    </div>
  );
}
